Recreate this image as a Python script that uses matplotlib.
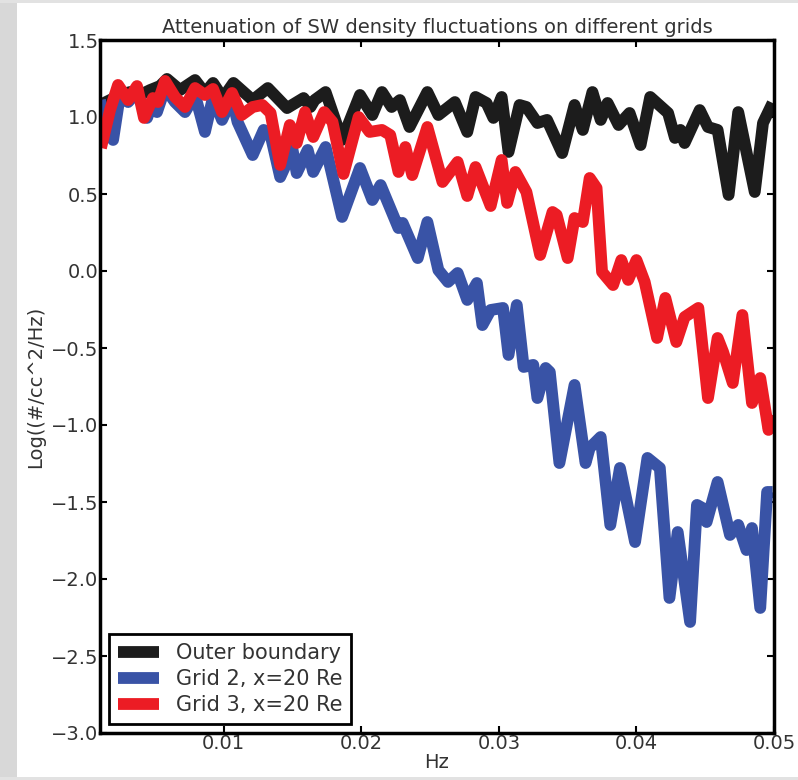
import matplotlib
matplotlib.use("Agg")
import matplotlib.pyplot as plt
from matplotlib.patches import Rectangle

# ---------------- data ----------------
outer_hz = [0.0010, 0.00173, 0.00245, 0.00318, 0.00391, 0.00464, 0.00536, 0.00587,
            0.00682, 0.00791, 0.00863, 0.00922, 0.00994, 0.0107, 0.0121, 0.0132,
            0.0146, 0.0158, 0.0163, 0.0166, 0.0174, 0.0186, 0.0199, 0.0208,
            0.0215, 0.0222, 0.0228, 0.0235, 0.0248, 0.0256, 0.0268, 0.0277,
            0.0283, 0.0291, 0.0296, 0.0302, 0.0307, 0.0315, 0.0320, 0.0328,
            0.0335, 0.0346, 0.0355, 0.0361, 0.0368, 0.0374, 0.0379, 0.0387,
            0.0395, 0.0403, 0.0410, 0.0419, 0.0423, 0.0428, 0.0432, 0.0435,
            0.0446, 0.0452, 0.0459, 0.0467, 0.0474, 0.0486, 0.0492, 0.0499]
outer_val = [1.078, 1.110, 1.143, 1.162, 1.143, 1.175, 1.201, 1.247,
             1.175, 1.240, 1.156, 1.221, 1.123, 1.221, 1.110, 1.188,
             1.058, 1.123, 1.065, 1.110, 1.162, 0.851, 1.143, 1.013,
             1.162, 1.065, 1.110, 0.935, 1.162, 1.013, 1.097, 0.903,
             1.130, 1.091, 0.994, 1.130, 0.773, 1.078, 1.065, 0.961,
             0.981, 0.766, 1.078, 0.916, 1.162, 0.981, 1.091, 0.948,
             1.026, 0.818, 1.130, 1.058, 1.026, 0.864, 0.916, 0.831,
             1.045, 0.935, 0.916, 0.494, 1.032, 0.513, 0.961, 1.091]

grid2_hz = [0.0010, 0.00136, 0.00195, 0.00245, 0.00304, 0.00369, 0.00442, 0.00485,
            0.00514, 0.00573, 0.00645, 0.00718, 0.00791, 0.00863, 0.00922, 0.00987,
            0.0106, 0.0110, 0.0121, 0.0129, 0.0134, 0.0141, 0.0150, 0.0153,
            0.0161, 0.0165, 0.0174, 0.0186, 0.0199, 0.0208, 0.0214, 0.0227,
            0.0230, 0.0241, 0.0248, 0.0256, 0.0263, 0.0270, 0.0277, 0.0284,
            0.0288, 0.0294, 0.0303, 0.0307, 0.0313, 0.0318, 0.0325, 0.0328,
            0.0334, 0.0337, 0.0344, 0.0355, 0.0363, 0.0366, 0.0374, 0.0381,
            0.0388, 0.0399, 0.0408, 0.0417, 0.0424, 0.0430, 0.0439, 0.0444,
            0.0448, 0.0451, 0.0459, 0.0468, 0.0474, 0.0480, 0.0484, 0.0490,
            0.0495, 0.0499]
grid2_val = [1.110, 0.948, 0.851, 1.143, 1.097, 1.162, 0.994, 1.097,
             1.032, 1.188, 1.097, 1.032, 1.143, 0.903, 1.130, 0.981,
             1.123, 0.968, 0.753, 0.916, 0.883, 0.610, 0.786, 0.636,
             0.786, 0.643, 0.805, 0.351, 0.669, 0.461, 0.558, 0.279,
             0.312, 0.084, 0.318, 0.006, -0.071, -0.013, -0.188, -0.078,
             -0.351, -0.253, -0.240, -0.545, -0.221, -0.623, -0.610, -0.825,
             -0.630, -0.656, -1.247, -0.740, -1.247, -1.149, -1.078, -1.649,
             -1.279, -1.760, -1.214, -1.279, -2.123, -1.695, -2.279, -1.519,
             -1.539, -1.630, -1.370, -1.714, -1.649, -1.812, -1.669, -2.188,
             -1.435, -1.435]

grid3_hz = [0.00107, 0.00173, 0.00231, 0.00304, 0.00369, 0.00420, 0.00485, 0.00522,
            0.00573, 0.00645, 0.00718, 0.00791, 0.00863, 0.00922, 0.00987, 0.0106,
            0.0113, 0.0121, 0.0128, 0.0134, 0.0141, 0.0148, 0.0153, 0.0159,
            0.0165, 0.0173, 0.0179, 0.0187, 0.0198, 0.0206, 0.0215, 0.0221,
            0.0227, 0.0232, 0.0237, 0.0248, 0.0259, 0.0270, 0.0277, 0.0283,
            0.0294, 0.0302, 0.0306, 0.0312, 0.0320, 0.0330, 0.0339, 0.0342,
            0.0350, 0.0355, 0.0361, 0.0366, 0.0371, 0.0375, 0.0383, 0.0389,
            0.0394, 0.0400, 0.0406, 0.0415, 0.0421, 0.0429, 0.0435, 0.0445,
            0.0452, 0.0459, 0.0463, 0.0470, 0.0477, 0.0484, 0.0490, 0.0496,
            0.0499]
grid3_val = [0.799, 1.045, 1.208, 1.110, 1.201, 0.994, 1.123, 1.097,
             1.234, 1.130, 1.065, 1.188, 1.143, 1.182, 1.032, 1.156,
             1.013, 1.065, 1.078, 1.026, 0.688, 0.948, 0.831, 1.032,
             0.870, 1.032, 0.968, 0.630, 1.000, 0.903, 0.916, 0.883,
             0.643, 0.805, 0.623, 0.935, 0.578, 0.708, 0.487, 0.675,
             0.422, 0.721, 0.442, 0.643, 0.513, 0.104, 0.383, 0.364,
             0.084, 0.344, 0.318, 0.604, 0.539, -0.006, -0.091, 0.071,
             -0.058, 0.071, -0.071, -0.435, -0.175, -0.461, -0.299, -0.240,
             -0.825, -0.435, -0.526, -0.727, -0.286, -0.857, -0.695, -1.032,
             -0.935]

series_labels = ["Outer boundary", "Grid 2, x=20 Re", "Grid 3, x=20 Re"]
series_colors = ["#1c1c1c", "#3953a6", "#ec1c24"]
x_ticks = [0.01, 0.02, 0.03, 0.04, 0.05]
y_ticks = [-3.0, -2.5, -2.0, -1.5, -1.0, -0.5, 0.0, 0.5, 1.0, 1.5]

# ---------------- figure ----------------
W, H = 798, 780
fig = plt.figure(figsize=(W / 100, H / 100), dpi=100, facecolor="white")

# screenshot-like grey margins
fig.patches.append(Rectangle((0, 0), 17 / W, 1, transform=fig.transFigure,
                             facecolor="#d8d8d8", edgecolor="none", zorder=-10))
fig.patches.append(Rectangle((0, 1 - 3 / H), 1, 3 / H, transform=fig.transFigure,
                             facecolor="#e2e2e2", edgecolor="none", zorder=-10))
fig.patches.append(Rectangle((0, 0), 1, 3 / H, transform=fig.transFigure,
                             facecolor="#e2e2e2", edgecolor="none", zorder=-10))

ax = fig.add_axes([100 / W, 1 - 733 / H, 674 / W, 693 / H])

text_color = "#333333"
lw = 8.5
for xs, ys, lab, col in zip([outer_hz, grid2_hz, grid3_hz],
                            [outer_val, grid2_val, grid3_val],
                            series_labels, series_colors):
    ax.plot(xs, ys, color=col, lw=lw, label=lab,
            solid_joinstyle="round", solid_capstyle="butt")

ax.set_xlim(0.001, 0.05)
ax.set_ylim(-3.0, 1.5)
ax.set_xticks(x_ticks)
ax.set_xticklabels([f"{v:.2f}" for v in x_ticks])
ax.set_yticks(y_ticks)
ax.set_yticklabels([f"{v:.1f}".replace("-", "\u2212") for v in y_ticks])

ax.tick_params(direction="in", length=5, width=1.5, top=True, right=True,
               labelsize=14, labelcolor=text_color, pad=1, color="black")
for s in ax.spines.values():
    s.set_linewidth(2.5)
    s.set_color("black")

ax.set_title("Attenuation of SW density fluctuations on different grids",
             fontsize=14, color=text_color, pad=5)
ax.set_xlabel("Hz", fontsize=14, color=text_color, labelpad=0)
ax.set_ylabel("Log((#/cc^2/Hz)", fontsize=14, color=text_color, labelpad=4)

leg = ax.legend(loc="lower left", fontsize=15, fancybox=False, framealpha=1,
                edgecolor="black", labelspacing=0.3, borderaxespad=0.45,
                handlelength=2.0, handletextpad=0.8, borderpad=0.4)
leg.get_frame().set_linewidth(2.0)
for t in leg.get_texts():
    t.set_color(text_color)

fig.savefig("out.png", dpi=100, facecolor=fig.get_facecolor())
